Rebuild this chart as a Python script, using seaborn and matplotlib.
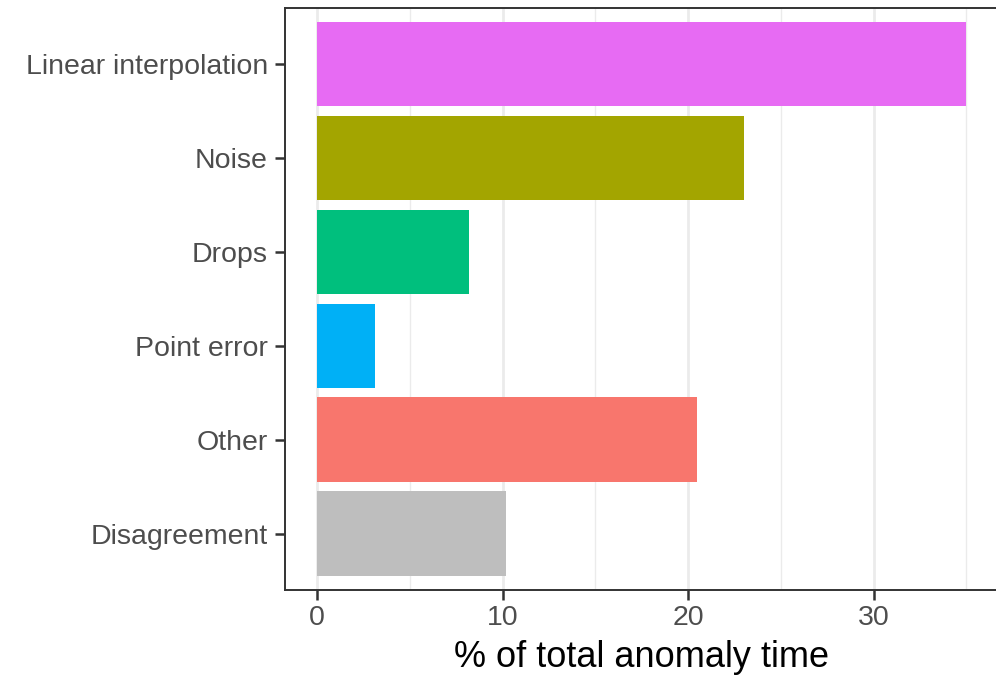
import matplotlib
matplotlib.use("Agg")
import matplotlib.pyplot as plt
import seaborn as sns
import pandas as pd
from matplotlib.ticker import MultipleLocator

# data
categories = ["Linear interpolation", "Noise", "Drops", "Point error", "Other", "Disagreement"]
pct_time = [35.0, 23.0, 8.2, 3.1, 20.5, 10.2]
bar_colors = ["#E76BF3", "#A3A500", "#00BF7D", "#00B0F6", "#F8766D", "#BEBEBE"]

df = pd.DataFrame({"category": categories, "pct": pct_time})

sns.set_style("white")
plt.rcParams["font.family"] = ["Liberation Sans", "DejaVu Sans"]

fig = plt.figure(figsize=(9.96, 6.75), dpi=100)
ax = fig.add_axes([0.2857, 0.1259, 0.7171, 0.8628])

sns.barplot(data=df, x="pct", y="category", hue="category", palette=bar_colors,
            order=categories, width=0.9, legend=False, ax=ax, saturation=1,
            linewidth=0)

ax.set_xlim(-1.75, 36.75)
ax.set_ylim(5.6, -0.6)
ax.xaxis.set_major_locator(MultipleLocator(10))
ax.xaxis.set_minor_locator(MultipleLocator(5))
ax.set_axisbelow(True)
ax.grid(False)
ax.grid(axis="x", which="major", color="#EBEBEB", linewidth=2.0)
ax.grid(axis="x", which="minor", color="#EBEBEB", linewidth=1.0)

for s in ax.spines.values():
    s.set_color("#333333")
    s.set_linewidth(1.4)
# right border falls just outside the picture
ax.spines["right"].set_visible(False)

ax.tick_params(axis="both", which="major", left=True, bottom=True, length=7,
               width=1.8, color="#333333", labelsize=20.5, labelcolor="#4D4D4D", pad=4)
ax.tick_params(axis="x", which="minor", length=0)
ax.tick_params(axis="y", pad=5)

ax.set_xlabel("% of total anomaly time", fontsize=26, color="black", labelpad=6)
ax.set_ylabel("")

fig.savefig("out.png", dpi=100)
